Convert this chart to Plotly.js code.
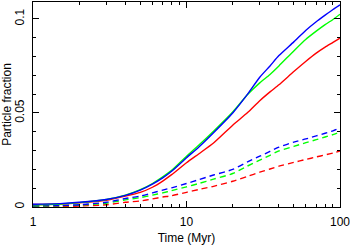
<!DOCTYPE html>
<html><head><meta charset="utf-8">
<script src="https://cdn.plot.ly/plotly-3.0.1.min.js"></script>
<style>html,body{margin:0;padding:0;background:#fff}</style>
</head><body><div id="chart" style="width:350px;height:245px"></div>
<script>
const time = [1, 1.5, 2, 3, 4, 5, 6, 7, 8, 10, 12, 15, 20, 25, 30, 35, 40, 50, 60, 70, 80, 90, 100];
const blueSolid  = [0.0015,0.0018,0.0025,0.0040,0.0062,0.0090,0.0122,0.0155,0.0190,0.0262,0.0318,0.0395,0.0500,0.0600,0.0690,0.0750,0.0805,0.0878,0.0940,0.0985,0.1020,0.1050,0.1075];
const greenSolid = [0.0012,0.0016,0.0023,0.0040,0.0063,0.0092,0.0125,0.0160,0.0195,0.0270,0.0328,0.0403,0.0505,0.0598,0.0660,0.0705,0.0750,0.0830,0.0892,0.0935,0.0970,0.0997,0.1025];
const redSolid   = [0.0013,0.0016,0.0022,0.0036,0.0058,0.0078,0.0105,0.0138,0.0172,0.0235,0.0282,0.0340,0.0435,0.0502,0.0565,0.0612,0.0650,0.0720,0.0775,0.0818,0.0850,0.0875,0.0898];
const blueDash   = [0.0007,0.0008,0.0012,0.0025,0.0045,0.0058,0.0075,0.0090,0.0102,0.0125,0.0145,0.0170,0.0200,0.0240,0.0270,0.0296,0.0318,0.0345,0.0362,0.0378,0.0392,0.0405,0.0420];
const greenDash  = [0.0005,0.0007,0.0010,0.0020,0.0038,0.0050,0.0063,0.0075,0.0087,0.0107,0.0125,0.0148,0.0178,0.0218,0.0249,0.0275,0.0298,0.0322,0.0342,0.0358,0.0372,0.0385,0.0398];
const redDash    = [0.0002,0.0003,0.0005,0.0012,0.0025,0.0032,0.0043,0.0053,0.0060,0.0078,0.0093,0.0110,0.0137,0.0163,0.0185,0.0202,0.0217,0.0237,0.0253,0.0266,0.0277,0.0287,0.0298];
const xTickVals = [1, 10, 100];
const xTickText = ['1', '10', '100'];
const yTickVals = [0, 0.05, 0.1];
const yTickText = ['0', '0.05', '0.1'];

function tr(y, color, dash) {
  return {x: time, y: y, mode: 'lines', type: 'scatter',
    line: {color: color, width: 1.4, dash: dash, shape: 'spline', smoothing: 0.6}, hoverinfo: 'skip'};
}
const data = [
  tr(redDash, '#ff0000', '6px,4px'),
  tr(greenDash, '#00ff00', '6px,4px'),
  tr(blueDash, '#0000ff', '6px,4px'),
  tr(redSolid, '#ff0000', 'solid'),
  tr(greenSolid, '#00ff00', 'solid'),
  tr(blueSolid, '#0000ff', 'solid')
];
const font = {family: 'Liberation Sans, Arial, sans-serif', size: 12, color: '#000'};
const layout = {
  width: 350, height: 245,
  margin: {l: 33, r: 10, t: 2, b: 38},
  paper_bgcolor: '#fff', plot_bgcolor: '#fff',
  showlegend: false, font: font,
  xaxis: {type: 'log', range: [0, 2], showgrid: false, zeroline: false,
    showline: true, linecolor: '#000', linewidth: 1, mirror: 'allticks',
    ticks: 'inside', ticklen: 6, tickcolor: '#000', ticklabelstandoff: 4,
    ticklabeloverflow: 'allow',
    tickvals: xTickVals, ticktext: xTickText,
    minor: {ticks: 'inside', ticklen: 3, tickcolor: '#000', tickvals: [2,3,4,5,6,7,8,9,20,30,40,50,60,70,80,90]},
    title: {text: 'Time (Myr)', font: font, standoff: 8}},
  yaxis: {range: [0, 0.109], showgrid: false, zeroline: false,
    showline: true, linecolor: '#000', linewidth: 1, mirror: 'allticks',
    ticks: 'inside', ticklen: 6, tickcolor: '#000', ticklabelstandoff: 3,
    ticklabeloverflow: 'allow',
    tickvals: yTickVals, ticktext: yTickText, tickangle: -90,
    minor: {ticks: 'inside', ticklen: 3, tickcolor: '#000', dtick: 0.01},
    title: {text: 'Particle fraction', font: font, standoff: 3}}
};
Plotly.newPlot('chart', data, layout, {staticPlot: true, displayModeBar: false});
</script></body></html>
